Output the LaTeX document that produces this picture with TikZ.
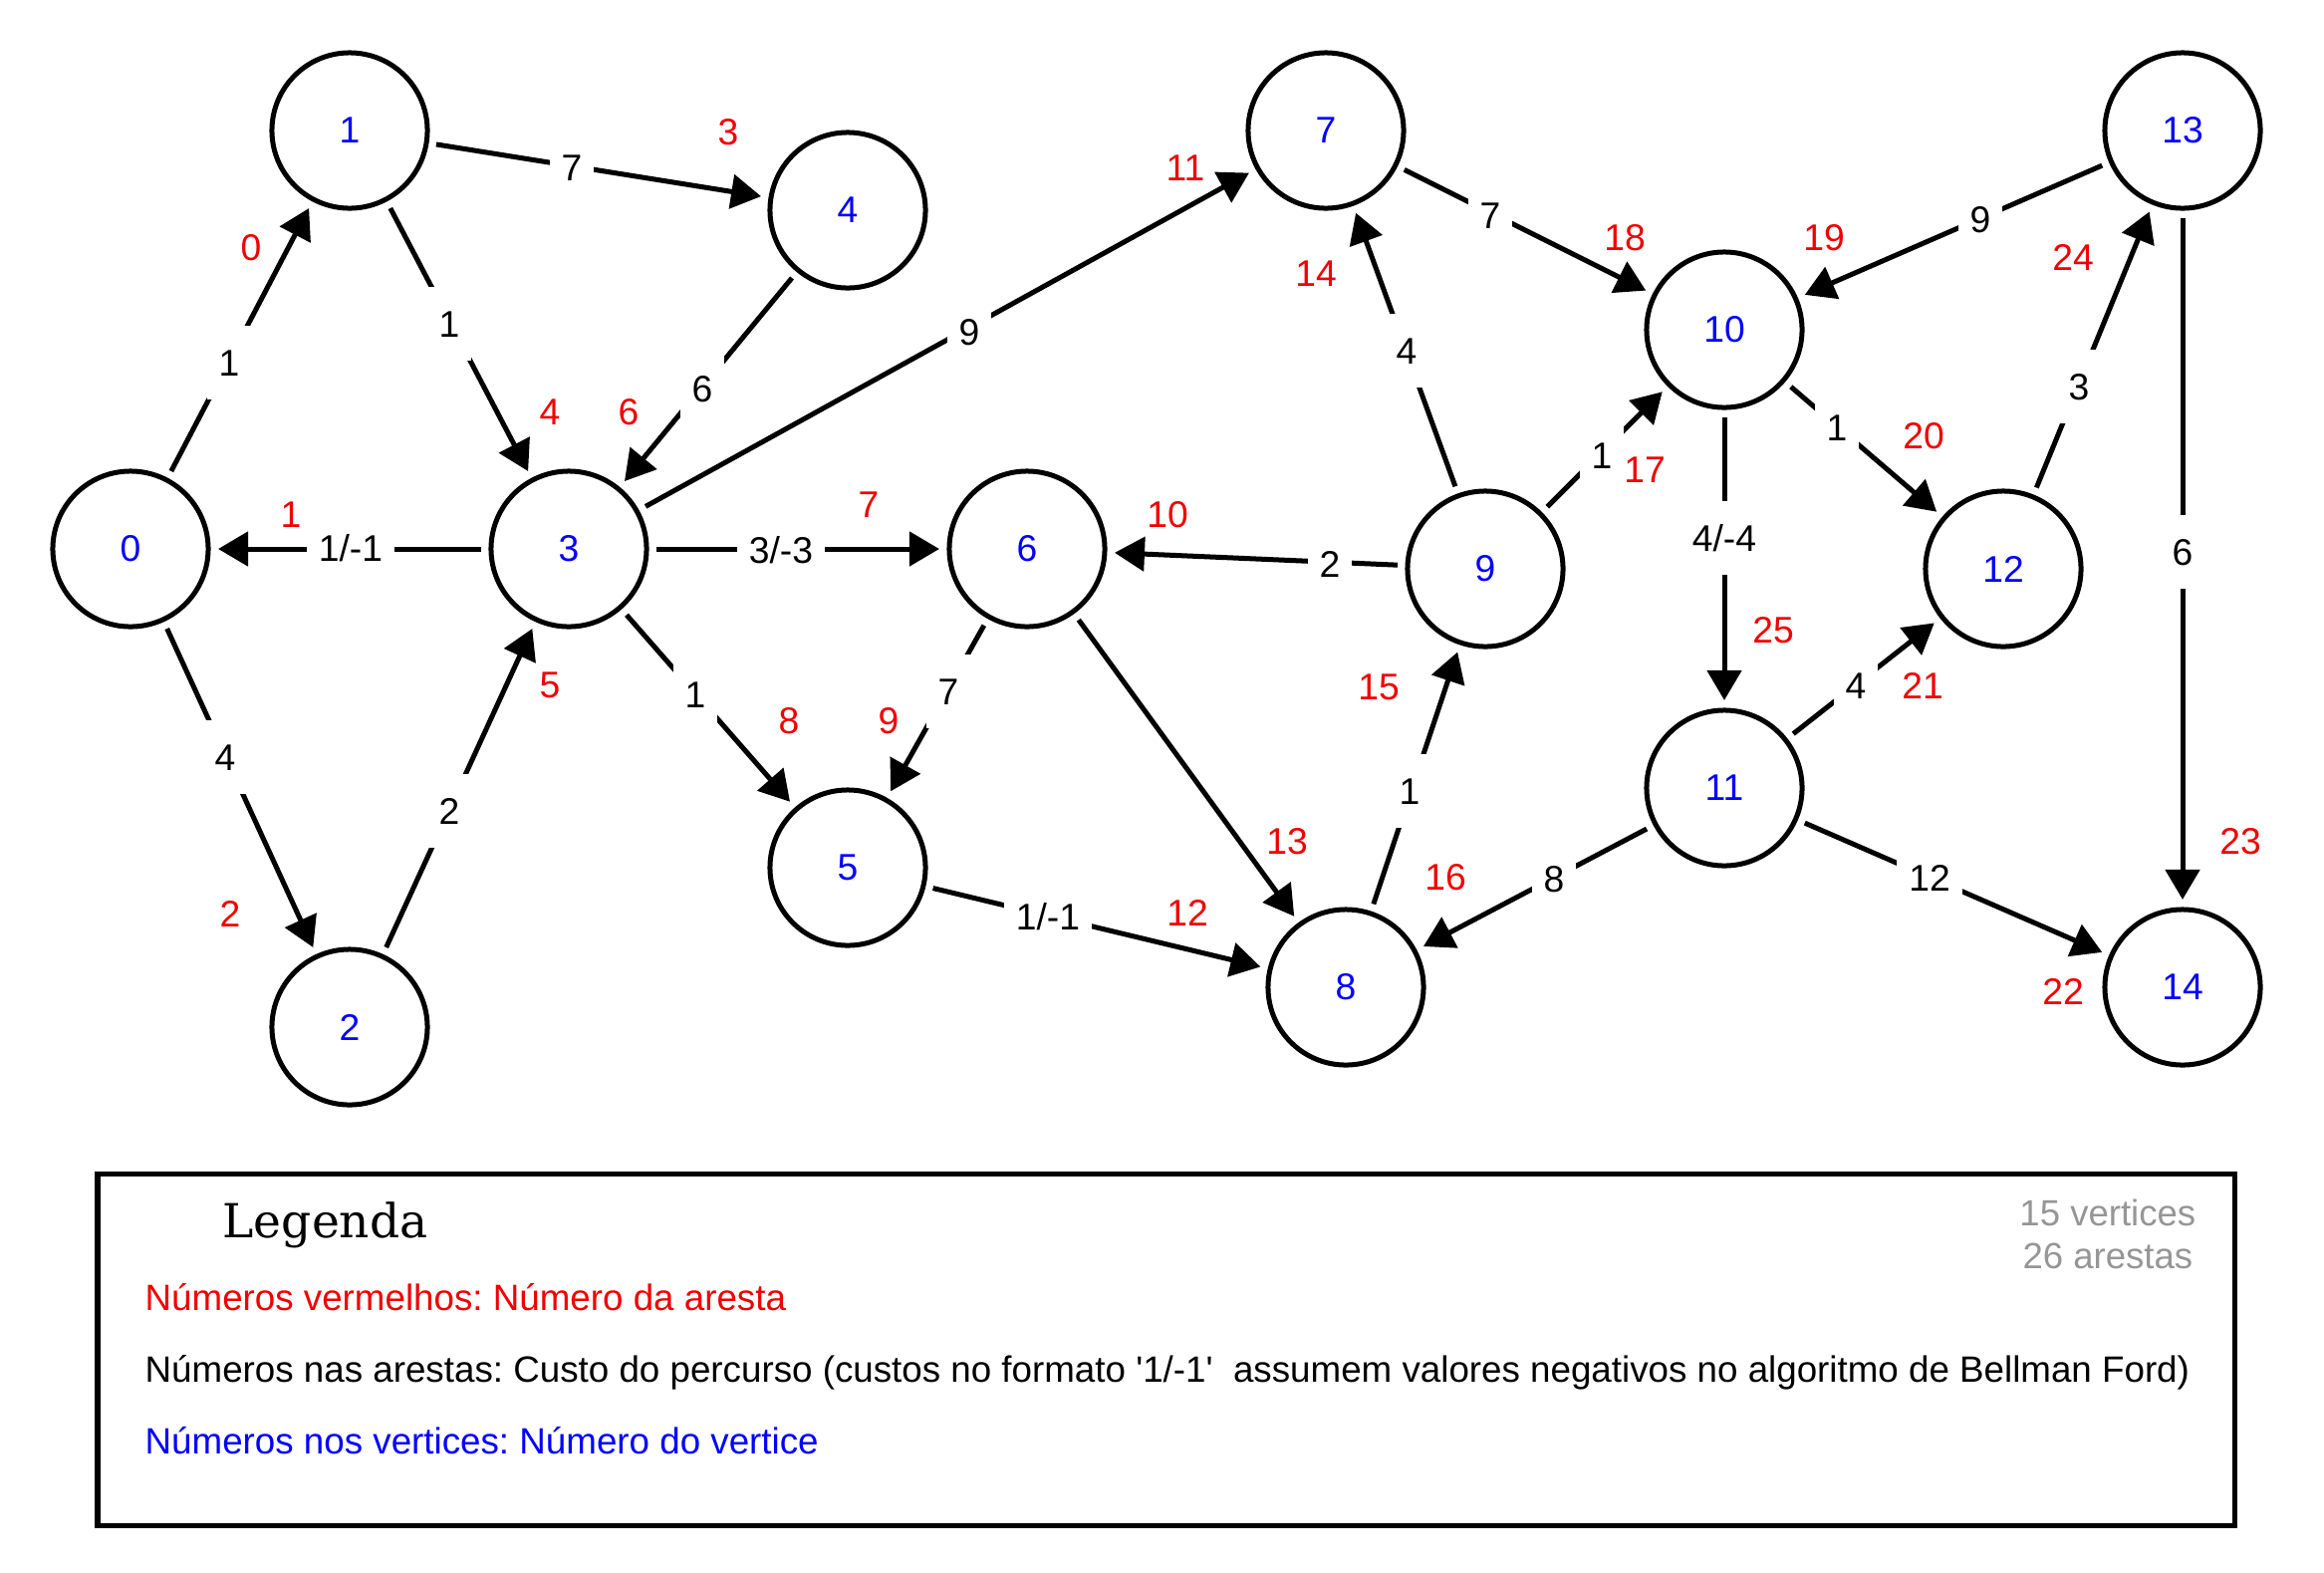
\documentclass[tikz,border=0pt]{standalone}
\usepackage{fontspec}
\setmainfont{Liberation Sans}[Ligatures=TeXOff]
\newfontfamily\legserif{DejaVu Serif}
\usetikzlibrary{arrows.meta}
\definecolor{vblue}{RGB}{0,0,255}
\definecolor{ered}{RGB}{240,0,0}
\definecolor{cgray}{RGB}{150,150,150}
\frenchspacing
\begin{document}
\begin{tikzpicture}[x=0.01cm,y=-0.01cm,
  vtx/.style={circle,draw,line width=0.05cm,minimum size=1.56cm,inner sep=0pt,outer sep=0.1cm,text=vblue,font=\fontsize{10.6}{12}\selectfont},
  edge/.style={line width=0.05cm,-{Triangle[length=0.3cm,width=0.34cm]}},
  cost/.style={fill=white,inner xsep=0.12cm,inner ysep=0.235cm,text height=0.27cm,text depth=0pt,font=\fontsize{10.6}{12}\selectfont},
  enum/.style={text=ered,inner sep=0pt,font=\fontsize{10.6}{12}\selectfont},
  legtxt/.style={anchor=base west,inner sep=0pt,font=\fontsize{10.45}{12}\selectfont},
  cnt/.style={anchor=base east,inner sep=0pt,text=cgray,font=\fontsize{10.4}{12}\selectfont}
]
\useasboundingbox (0,0) rectangle (2333,1578);
% vertices
\node[vtx] (n0) at (131,551) {0};
\node[vtx] (n1) at (351,131) {1};
\node[vtx] (n2) at (351,1031) {2};
\node[vtx] (n3) at (571,551) {3};
\node[vtx] (n4) at (851,211) {4};
\node[vtx] (n5) at (851,871) {5};
\node[vtx] (n6) at (1031,551) {6};
\node[vtx] (n7) at (1331,131) {7};
\node[vtx] (n8) at (1351,991) {8};
\node[vtx] (n9) at (1491,571) {9};
\node[vtx] (n10) at (1731,331) {10};
\node[vtx] (n11) at (1731,791) {11};
\node[vtx] (n12) at (2011,571) {12};
\node[vtx] (n13) at (2191,131) {13};
\node[vtx] (n14) at (2191,991) {14};
% edges
\draw[edge] (n0) -- (n1);
\draw[edge] (n3) -- (n0);
\draw[edge] (n0) -- (n2);
\draw[edge] (n1) -- (n4);
\draw[edge] (n1) -- (n3);
\draw[edge] (n2) -- (n3);
\draw[edge] (n4) -- (n3);
\draw[edge] (n3) -- (n6);
\draw[edge] (n3) -- (n5);
\draw[edge] (n6) -- (n5);
\draw[edge] (n9) -- (n6);
\draw[edge] (n3) -- (n7);
\draw[edge] (n5) -- (n8);
\draw[edge] (n6) -- (n8);
\draw[edge] (n9) -- (n7);
\draw[edge] (n8) -- (n9);
\draw[edge] (n11) -- (n8);
\draw[edge] (n9) -- (n10);
\draw[edge] (n7) -- (n10);
\draw[edge] (n13) -- (n10);
\draw[edge] (n10) -- (n12);
\draw[edge] (n11) -- (n12);
\draw[edge] (n11) -- (n14);
\draw[edge] (n13) -- (n14);
\draw[edge] (n12) -- (n13);
\draw[edge] (n10) -- (n11);
% costs
\node[cost] (c0) at (230,364) {1};
\node[cost] (c1) at (352,550) {1/-1};
\node[cost] (c2) at (226,760) {4};
\node[cost] (c3) at (574,168) {7};
\node[cost] (c4) at (451,325) {1};
\node[cost] (c5) at (451,814) {2};
\node[cost] (c6) at (705,390) {6};
\node[cost] (c7) at (784,552) {3/-3};
\node[cost] (c8) at (698,697) {1};
\node[cost] (c9) at (952,694) {7};
\node[cost] (c10) at (1335,566) {2};
\node[cost] (c11) at (973,333) {9};
\node[cost] (c12) at (1052,920) {1/-1};
\node[cost] (c14) at (1412,352) {4};
\node[cost] (c15) at (1415,794) {1};
\node[cost] (c16) at (1560,882) {8};
\node[cost] (c17) at (1608,457) {1};
\node[cost] (c18) at (1496,216) {7};
\node[cost] (c19) at (1988,220) {9};
\node[cost] (c20) at (1844,429) {1};
\node[cost] (c21) at (1863,688) {4};
\node[cost] (c22) at (1937,881) {12};
\node[cost] (c23) at (2191,554) {6};
\node[cost] (c24) at (2087,388) {3};
\node[cost] (c25) at (1731,540) {4/-4};
% edge numbers
\node[enum] (r0) at (252,249) {0};
\node[enum] (r1) at (292,517) {1};
\node[enum] (r2) at (231,917) {2};
\node[enum] (r3) at (731,133) {3};
\node[enum] (r4) at (552,414) {4};
\node[enum] (r5) at (552,688) {5};
\node[enum] (r6) at (631,414) {6};
\node[enum] (r7) at (872,507) {7};
\node[enum] (r8) at (792,724) {8};
\node[enum] (r9) at (892,724) {9};
\node[enum] (r10) at (1172,517) {10};
\node[enum] (r11) at (1190,169) {11};
\node[enum] (r12) at (1192,916) {12};
\node[enum] (r13) at (1292,845) {13};
\node[enum] (r14) at (1321,275) {14};
\node[enum] (r15) at (1384,690) {15};
\node[enum] (r16) at (1451,881) {16};
\node[enum] (r17) at (1651,472) {17};
\node[enum] (r18) at (1631,239) {18};
\node[enum] (r19) at (1831,239) {19};
\node[enum] (r20) at (1931,438) {20};
\node[enum] (r21) at (1930,688) {21};
\node[enum] (r22) at (2071,995) {22};
\node[enum] (r23) at (2249,845) {23};
\node[enum] (r24) at (2081,258) {24};
\node[enum] (r25) at (1780,633) {25};
% legend
\draw[line width=0.05cm] (98,1178) rectangle (2243,1531);
\node[anchor=base west,inner sep=0pt,font=\legserif\fontsize{13.4}{16}\selectfont] (lt) at (223,1242) {Legenda};
\node[legtxt,text=ered] (l1) at (145,1315) {Números vermelhos: Número da aresta};
\node[legtxt] (l2) at (145,1387) {Números nas arestas: Custo do percurso (custos no formato '1/-1'\ \ assumem valores negativos no algoritmo de Bellman Ford)};
\node[legtxt,text=vblue] (l3) at (145,1459) {Números nos vertices: Número do vertice};
\node[cnt] (k1) at (2205,1230) {15 vertices};
\node[cnt] (k2) at (2202,1273) {26 arestas};
\end{tikzpicture}
\end{document}
